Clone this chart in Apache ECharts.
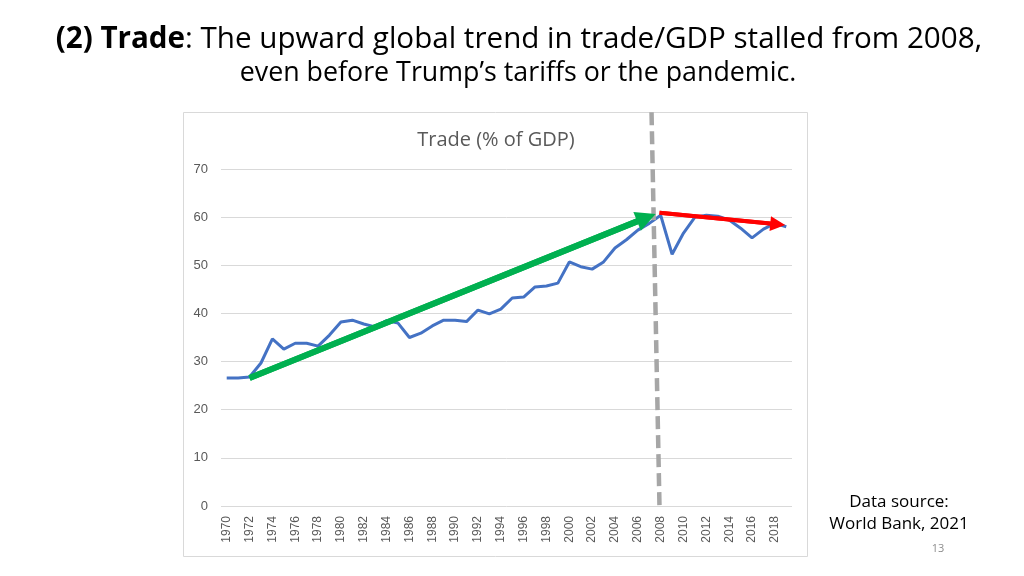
<!DOCTYPE html>
<html>
<head>
<meta charset="utf-8">
<script src="https://cdn.jsdelivr.net/npm/echarts@6/dist/echarts.min.js"></script>
<style>html,body{margin:0;padding:0;background:#fff;}#c{width:1024px;height:576px;}</style>
</head>
<body>
<div id="c"></div>
<script>
const years = [];
for (let y = 1970; y <= 2019; y++) years.push(String(y));
const tradePct = [26.6, 26.6, 26.8, 29.7, 34.7, 32.6, 33.8, 33.8, 33.2, 35.5,
  38.2, 38.6, 37.8, 37.2, 38.5, 38.0, 35.0, 35.9, 37.4, 38.6,
  38.6, 38.3, 40.7, 39.9, 40.9, 43.2, 43.4, 45.5, 45.7, 46.3,
  50.7, 49.7, 49.2, 50.7, 53.6, 55.3, 57.3, 58.7, 60.4, 52.3,
  56.7, 60.0, 60.4, 60.2, 59.4, 57.7, 55.7, 57.5, 58.7, 58.0];
const yTicks = [0, 10, 20, 30, 40, 50, 60, 70];
const growthArrow = [[1972, 26.6], [2006.75, 59.9]];
const stallArrow = [[2007.9, 60.9], [2018.25, 58.5]];
const crisisLine = [[2007.2, 81.8], [2007.9, -0.4]];

const chart = echarts.init(document.getElementById('c'));
const titleFont = '"Open Sans", sans-serif';
const option = {
  backgroundColor: '#ffffff',
  animation: false,
  graphic: [
    { type: 'rect', z: -10, shape: { x: 183.5, y: 112.5, width: 624, height: 444 },
      style: { fill: '#ffffff', stroke: '#d9d9d9', lineWidth: 1 } },
    { type: 'text', x: 519, y: 40, style: {
        text: '{b|(2) Trade}{n|: The upward global trend in trade/GDP stalled from 2008,}',
        align: 'center', verticalAlign: 'middle',
        rich: { b: { fontFamily: titleFont, fontWeight: 'bold', fontSize: 29.6, fill: '#000' },
                n: { fontFamily: titleFont, fontSize: 29.6, fill: '#000' } } } },
    { type: 'text', x: 518, y: 73, style: {
        text: 'even before Trump\u2019s tariffs or the pandemic.', align: 'center', verticalAlign: 'middle',
        fontFamily: titleFont, fontSize: 26.8, fill: '#000' } },
    { type: 'text', x: 899, y: 502, style: { text: 'Data source:', align: 'center', verticalAlign: 'middle',
        fontFamily: titleFont, fontSize: 17, fill: '#000' } },
    { type: 'text', x: 899, y: 524, style: { text: 'World Bank, 2021', align: 'center', verticalAlign: 'middle',
        fontFamily: titleFont, fontSize: 17, fill: '#000' } },
    { type: 'text', x: 938, y: 549, style: { text: '13', align: 'center', verticalAlign: 'middle',
        fontFamily: titleFont, fontSize: 11, fill: '#8c8c8c' } }
  ],
  title: {
    text: 'Trade (% of GDP)', left: 491, top: 125, textAlign: 'center',
    textStyle: { fontFamily: '"Open Sans", sans-serif', fontWeight: 'normal', fontSize: 20, color: '#595959' }
  },
  grid: { left: 221, right: 232, top: 169, bottom: 70 },
  xAxis: [
    { type: 'category', data: years, boundaryGap: true,
      axisLine: { show: false }, axisTick: { show: false },
      axisLabel: { interval: 1, rotate: 90, fontSize: 12, color: '#595959', margin: 10,
        fontFamily: '"Liberation Sans", sans-serif' } },
    { type: 'value', min: 1969.5, max: 2019.5, show: false }
  ],
  yAxis: {
    type: 'value', min: 0, max: 70, interval: 10,
    axisLine: { show: false }, axisTick: { show: false },
    axisLabel: { fontSize: 13, color: '#595959', margin: 13, fontFamily: '"Liberation Sans", sans-serif',
      formatter: v => yTicks.includes(v) ? String(v) : '' },
    splitLine: { lineStyle: { color: '#d9d9d9', width: 1 } }
  },
  series: [
    { type: 'line', name: 'Trade', data: tradePct, xAxisIndex: 0, showSymbol: false, symbol: 'none',
      lineStyle: { color: '#4472c4', width: 3 }, z: 3 },
    { type: 'line', xAxisIndex: 1, data: crisisLine, clip: false, z: 4, showSymbol: false, symbol: 'none',
      lineStyle: { color: '#a6a6a6', width: 4.5, type: [13, 6], cap: 'butt' } },
    { type: 'line', xAxisIndex: 1, data: growthArrow, clip: false, z: 5, showSymbol: false, symbol: 'none',
      lineStyle: { color: '#00b050', width: 6 },
      markLine: { silent: true, symbol: ['none', 'triangle'], symbolSize: 20, animation: false,
        lineStyle: { color: '#00b050', width: 6, type: 'solid' }, label: { show: false },
        data: [[{ coord: growthArrow[0] }, { coord: growthArrow[1] }]] } },
    { type: 'line', xAxisIndex: 1, data: stallArrow, clip: false, z: 5, showSymbol: false, symbol: 'none',
      lineStyle: { color: '#ff0000', width: 4 },
      markLine: { silent: true, symbol: ['none', 'triangle'], symbolSize: 15, animation: false,
        lineStyle: { color: '#ff0000', width: 4, type: 'solid' }, label: { show: false },
        data: [[{ coord: stallArrow[0] }, { coord: stallArrow[1] }]] } }
  ]
};
chart.setOption(option);
</script>
</body>
</html>
